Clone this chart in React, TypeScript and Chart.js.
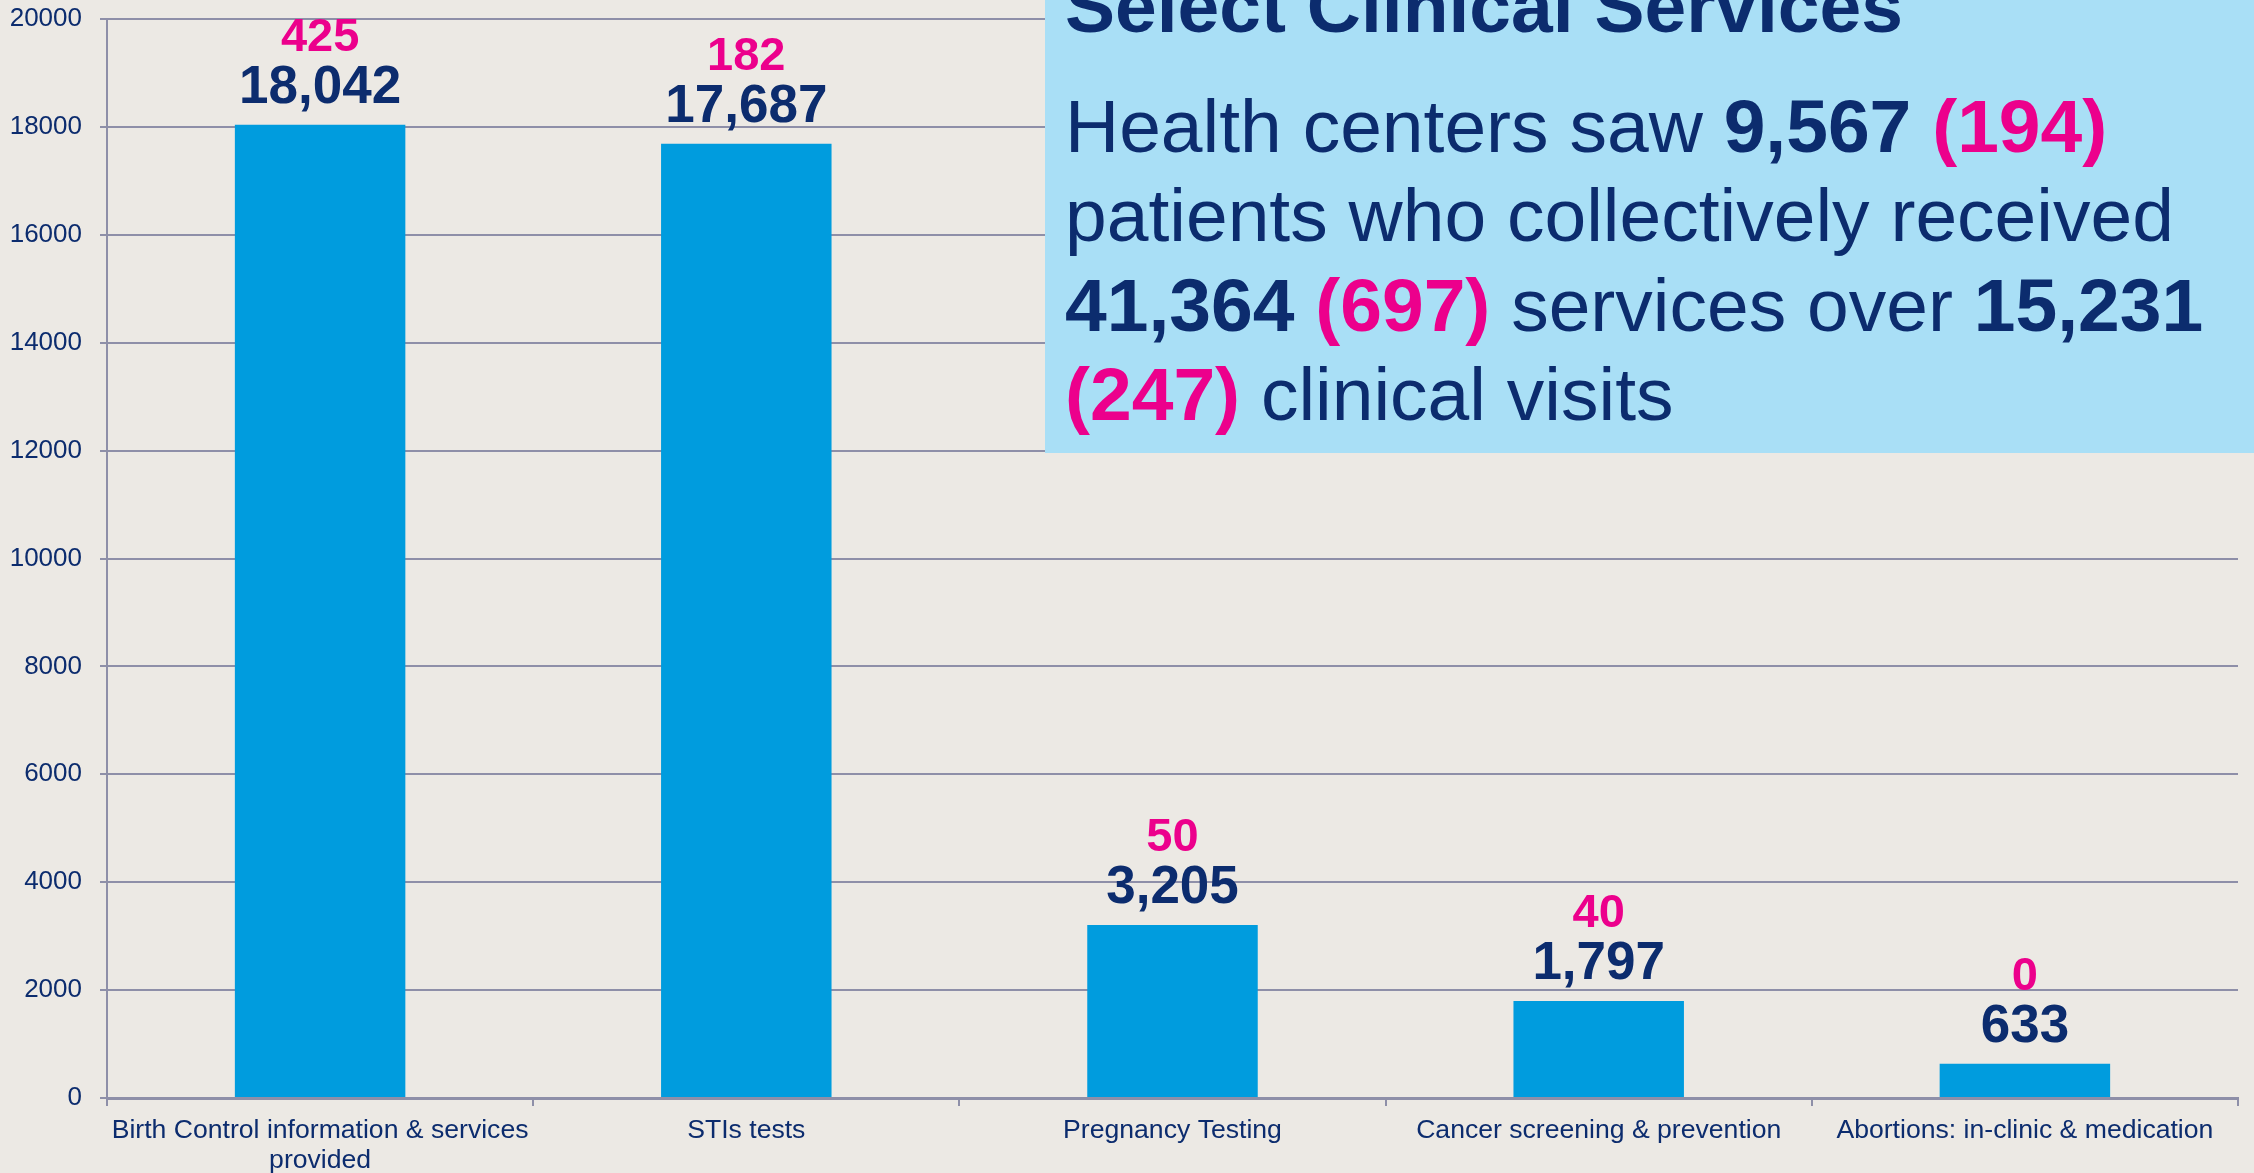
import React, { useEffect, useRef } from 'react';
import { Chart, registerables } from 'chart.js';

Chart.register(...registerables);

// ---------- data ----------
const categories: (string | string[])[] = [
  ['Birth Control information & services', 'provided'],
  'STIs tests',
  'Pregnancy Testing',
  'Cancer screening & prevention',
  'Abortions: in-clinic & medication',
];
const totalServices = [18042, 17687, 3205, 1797, 633];
const subsetServices = [425, 182, 50, 40, 0];
const yTickValues = [0, 2000, 4000, 6000, 8000, 10000, 12000, 14000, 16000, 18000, 20000];

const titleText = 'Select Clinical Services';
type Seg = { text: string; bold?: boolean; pink?: boolean };
const summaryLines: Seg[][] = [
  [{ text: 'Health centers saw ' }, { text: '9,567', bold: true }, { text: ' ' }, { text: '(194)', bold: true, pink: true }],
  [{ text: 'patients who collectively received' }],
  [
    { text: '41,364', bold: true },
    { text: ' ' },
    { text: '(697)', bold: true, pink: true },
    { text: ' services over ' },
    { text: '15,231', bold: true },
  ],
  [{ text: '(247)', bold: true, pink: true }, { text: ' clinical visits' }],
];

// ---------- styles ----------
const FAMILY = '"Liberation Sans", Arial, Helvetica, sans-serif';
const NAVY = '#0C2C6E';
const PINK = '#EC008C';
const BAR = '#009CDE';
const BG = '#ECE9E4';
const BOX = '#A9DFF6';
const GRID = '#8E8FA8';

const fmt = (v: number) => String(v).replace(/\B(?=(\d{3})+(?!\d))/g, ',');

const valueLabels = {
  id: 'valueLabels',
  afterDatasetsDraw(chart: any) {
    const ctx = chart.ctx;
    const meta = chart.getDatasetMeta(0);
    meta.data.forEach((bar: any, i: number) => {
      ctx.save();
      ctx.textAlign = 'center';
      ctx.textBaseline = 'alphabetic';
      ctx.fillStyle = NAVY;
      ctx.font = `bold 53px ${FAMILY}`;
      ctx.fillText(fmt(totalServices[i]), bar.x, bar.y - 22);
      ctx.fillStyle = PINK;
      ctx.font = `bold 47px ${FAMILY}`;
      ctx.fillText(String(subsetServices[i]), bar.x, bar.y - 74);
      ctx.restore();
    });
  },
};

const summaryBox = {
  id: 'summaryBox',
  afterDraw(chart: any) {
    const ctx = chart.ctx;
    const boxLeft = 1045;
    const boxBottom = 453;
    ctx.save();
    ctx.fillStyle = BOX;
    ctx.fillRect(boxLeft, 0, chart.width - boxLeft, boxBottom);
    const textX = 1065;
    ctx.textAlign = 'left';
    ctx.textBaseline = 'alphabetic';
    ctx.fillStyle = NAVY;
    ctx.font = `bold 75px ${FAMILY}`;
    ctx.fillText(titleText, textX, 32);
    const firstBase = 152;
    const step = 89.3;
    summaryLines.forEach((line, li) => {
      let x = textX;
      const y = firstBase + li * step;
      line.forEach((seg) => {
        ctx.font = `${seg.bold ? 'bold ' : ''}75px ${FAMILY}`;
        ctx.fillStyle = seg.pink ? PINK : NAVY;
        ctx.fillText(seg.text, x, y);
        x += ctx.measureText(seg.text).width;
      });
    });
    ctx.restore();
  },
};

export default function App() {
  const ref = useRef<HTMLCanvasElement>(null);

  useEffect(() => {
    document.body.style.margin = '0';
    document.body.style.background = BG;
    const canvas = ref.current!;
    const chart = new Chart(canvas, {
      type: 'bar',
      data: {
        labels: categories,
        datasets: [
          {
            data: totalServices,
            backgroundColor: BAR,
            borderWidth: 0,
            categoryPercentage: 1,
            barPercentage: 0.4,
          },
        ],
      },
      options: {
        animation: false,
        responsive: false,
        maintainAspectRatio: false,
        layout: { padding: { top: 19, right: 16, left: 0, bottom: 0 } },
        plugins: {
          legend: { display: false },
          tooltip: { enabled: false },
          title: { display: false },
        },
        scales: {
          x: {
            grid: {
              display: true,
              drawOnChartArea: false,
              drawTicks: true,
              tickLength: 8,
              color: GRID,
              lineWidth: 2,
              offset: true,
            },
            border: { display: true, color: GRID, width: 3 },
            ticks: {
              color: NAVY,
              font: { family: FAMILY, size: 26.6, lineHeight: 1.13 },
              padding: 10,
              maxRotation: 0,
              minRotation: 0,
              autoSkip: false,
            },
            afterFit: (s: any) => {
              s.height = 75;
              s.paddingLeft = 0;
              s.paddingRight = 0;
              s.paddingTop = 0;
              s.paddingBottom = 0;
            },
          },
          y: {
            min: 0,
            max: 20000,
            afterBuildTicks: (s: any) => {
              s.ticks = yTickValues.map((v) => ({ value: v }));
            },
            ticks: {
              color: NAVY,
              font: { family: FAMILY, size: 26 },
              padding: 18,
              callback: (v: any) => String(v),
            },
            grid: { color: GRID, lineWidth: 2, tickLength: 7, drawTicks: true },
            border: { display: true, color: GRID, width: 2 },
            afterFit: (s: any) => {
              s.width = 107;
              s.paddingTop = 0;
              s.paddingBottom = 0;
              s.paddingLeft = 0;
              s.paddingRight = 0;
            },
          },
        },
      },
      plugins: [valueLabels, summaryBox],
    });
    return () => chart.destroy();
  }, []);

  return (
    <div style={{ position: 'absolute', left: 0, top: 0, width: 2254, height: 1173, background: BG }}>
      <canvas ref={ref} width={2254} height={1173} style={{ display: 'block', width: 2254, height: 1173 }} />
    </div>
  );
}
